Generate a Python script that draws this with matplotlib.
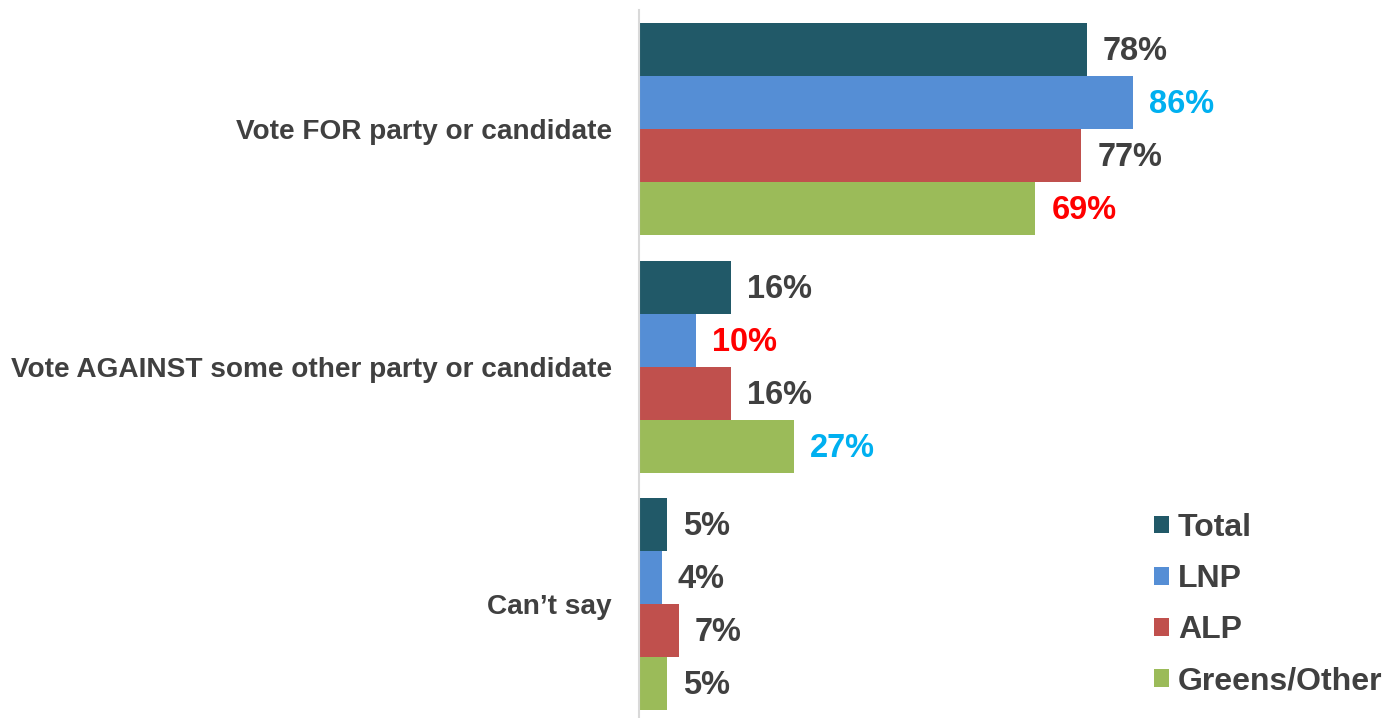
import matplotlib
matplotlib.use("Agg")
import matplotlib.pyplot as plt
from matplotlib.patches import Patch
import numpy as np

categories = [
    "Vote FOR party or candidate",
    "Vote AGAINST some other party or candidate",
    "Can\u2019t say",
]
series = ["Total", "LNP", "ALP", "Greens/Other"]
values = {
    "Total": [78, 16, 5],
    "LNP": [86, 10, 4],
    "ALP": [77, 16, 7],
    "Greens/Other": [69, 27, 5],
}
# label colours: highest in cyan, lowest in red among party groups
label_colors = {
    "Total": ["#404040", "#404040", "#404040"],
    "LNP": ["#00B0F0", "#FF0000", "#404040"],
    "ALP": ["#404040", "#404040", "#404040"],
    "Greens/Other": ["#FF0000", "#00B0F0", "#404040"],
}
colors = {
    "Total": "#215968",
    "LNP": "#558ED5",
    "ALP": "#C0504D",
    "Greens/Other": "#9BBB59",
}

plt.rcParams["font.family"] = ["Liberation Sans", "DejaVu Sans"]
fig = plt.figure(figsize=(13.83, 7.18), dpi=100)
W, H = 1383, 718
x0, x1 = 638.5, 1383
y_top, y_bot = 10, 718
ax = fig.add_axes([x0 / W, 1 - y_bot / H, (x1 - x0) / W, (y_bot - y_top) / H])

px_per_pct = (1087 - 638.5) / 78
ax.set_xlim(0, (x1 - x0) / px_per_pct)
ax.set_ylim(2.478, -0.501)

bar_h = 0.223
ypos = np.arange(len(categories))
for i, s in enumerate(series):
    offs = (i - 1.5) * bar_h
    ax.barh(ypos + offs, values[s], height=bar_h, color=colors[s], label=s)
    for j, v in enumerate(values[s]):
        ax.text(v + 2.8, ypos[j] + offs + 0.008, f"{v}%", va="center", ha="left",
                fontsize=23.5, fontweight="bold", color=label_colors[s][j])

ax.set_yticks(ypos)
ax.set_yticklabels(categories, fontsize=20.2, fontweight="bold", color="#404040")
ax.tick_params(axis="y", length=0, pad=19)
ax.set_xticks([])
for sp in ["top", "right", "bottom"]:
    ax.spines[sp].set_visible(False)
ax.spines["left"].set_color("#D9D9D9")
ax.spines["left"].set_linewidth(1.5)

handles = [Patch(facecolor=colors[s]) for s in series]
leg = fig.legend(handles, series, loc="upper left",
                 bbox_to_anchor=(1154 / W, 1 - 513 / H), frameon=False,
                 prop={"size": 23, "weight": "bold"}, handlelength=0.47,
                 handleheight=0.47, handletextpad=0.28, labelspacing=0.66,
                 borderpad=0, borderaxespad=0)
for t in leg.get_texts():
    t.set_color("#404040")

fig.savefig("out.png", dpi=100)
